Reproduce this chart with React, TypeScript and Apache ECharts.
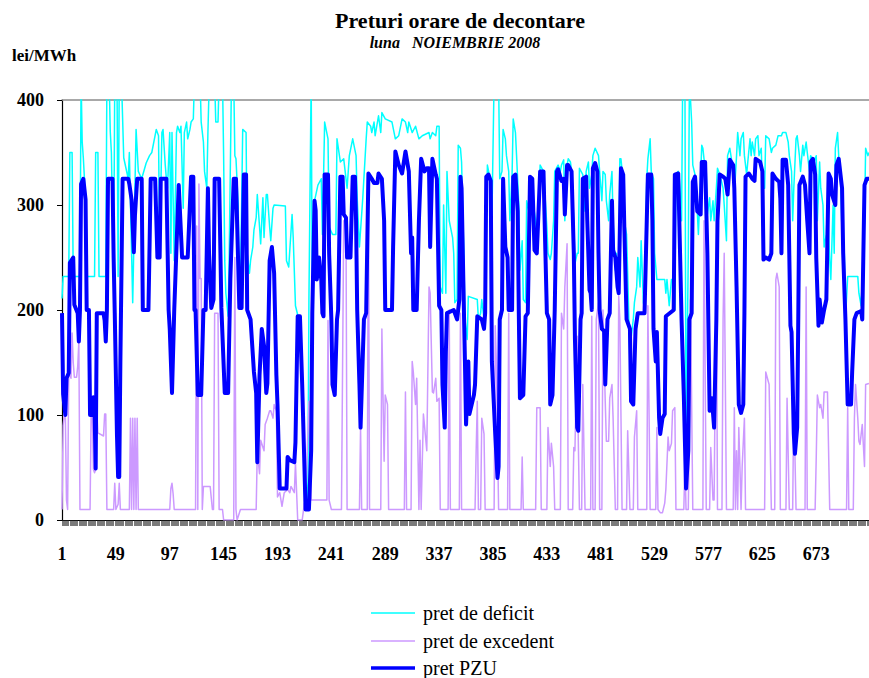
import React, { useEffect, useRef } from "react";
import * as echarts from "echarts";

// Hourly settlement prices, November 2008 (hour index 1..720), read as [hour, lei/MWh] break-points
const pzuPoints: number[][] = [
  [1,197],[2,120],[4,100],[5,135],[7,140],[8,245],[11,250],[12,205],[15,197],[16,170],[17,200],[18,320],[20,325],[21,315],[22,305],[23,200],[25,200],[26,100],[28,100],[29,117],[30,105],[31,49],[32,197],[38,197],[39,190],[40,170],[41,200],[42,325],[46,325],[47,250],[48,197],[50,80],[51,41],[52,41],[53,150],[55,325],[60,325],
  [61,320],[63,305],[65,255],[66,290],[68,325],[72,325],[73,200],[78,200],[79,260],[80,325],[84,325],[86,250],[88,250],[89,325],[94,325],[96,200],[97,182],[99,121],[101,200],[105,319],[108,250],[113,250],[116,327],[118,327],[119,200],[120,200],[122,119],[125,119],[127,200],[129,200],[131,316],
  [132,254],[134,202],[136,210],[137,325],[141,325],[143,202],[146,121],[149,121],[151,230],[154,325],[156,325],[159,202],[161,202],[163,329],[165,329],[166,200],[169,191],[172,141],[174,121],[175,55],[177,138],[179,182],[181,166],[183,121],[184,130],[186,247],[188,260],[190,235],[192,138],[193,110],[195,30],
  [201,30],[202,60],[204,57],[208,55],[209,74],[211,194],[213,194],[215,129],[217,51],[218,10],[221,10],[223,66],[224,197],[226,304],[227,295],[228,229],[230,250],[232,229],[233,197],[234,194],[235,329],[238,329],[239,254],[241,191],[242,129],[244,119],[246,191],[247,200],[249,327],[251,327],[252,291],[254,288],[255,250],[258,250],[260,327],[262,327],[263,285],[264,200],[266,129],[267,88],[270,191],[272,197],
  [274,330],[277,325],[279,321],[282,321],[283,330],[286,325],[288,285],[289,200],[295,200],[296,260],[298,351],[301,338],[304,330],[307,351],[310,332],[312,254],[313,269],[314,200],[317,200],[319,285],[321,344],[324,332],[326,335],[328,335],[329,260],[331,344],[334,329],[335,325],[337,204],[339,200],[340,129],[342,88],[343,160],[344,197],[350,200],[353,191],[355,210],[356,327],[357,316],[359,204],[360,151],[361,91],[363,151],[364,101],[366,110],[368,119],[369,129],[371,194],[375,191],[377,182],[378,197],
  [379,327],[381,329],[383,323],[384,151],[387,82],[389,40],[390,51],[391,191],[393,200],[394,325],[396,260],[398,250],[399,200],[402,200],[403,327],[405,329],[407,294],[408,197],[409,116],[412,119],[414,194],[416,197],[418,327],[420,325],[422,257],[424,254],[425,279],[427,332],[430,332],[431,285],[433,197],[435,191],[436,110],[438,119],[440,200],[442,332],[443,334],[446,323],[448,325],[449,291],[451,338],[452,338],[455,332],[457,254],[458,173],[460,88],[461,85],
  [463,191],[464,197],[465,325],[468,327],[469,285],[471,219],[472,216],[473,200],[474,335],[476,340],[478,332],[479,254],[480,200],[482,182],[484,180],[485,129],[487,191],[489,197],[491,304],[492,257],[494,250],[496,222],[497,216],[499,335],[501,329],[502,279],[504,191],[507,182],[508,113],[510,110],[512,182],[514,197],[520,197],[522,285],[523,329],[526,329],[527,285],[528,182],[530,151],[531,179],[533,97],[534,82],[536,97],[538,101],[539,194],[546,200],[547,329],[550,330],[551,285],[553,191],[555,119],[557,30],[559,66],[560,191],[562,197],
  [563,322],[565,327],[567,294],[570,291],[571,341],[574,341],[576,254],[578,104],[580,116],[582,88],[584,191],[585,285],[587,329],[590,327],[592,325],[594,310],[596,343],[599,338],[600,316],[602,222],[604,110],[606,102],[608,110],[609,197],[610,327],[613,330],[616,325],[618,323],[619,344],[623,341],[625,332],[626,248],[628,250],[631,248],[633,254],[634,330],[637,325],[640,322],[641,306],[642,254],[643,343],[646,343],[648,319],[650,185],[651,179],[653,82],[654,63],[656,88],[657,194],[658,319],[661,327],[663,319],[665,285],[667,254],
  [668,341],[670,344],[672,329],[673,250],[675,185],[676,210],[678,188],[680,200],[682,210],[684,330],[686,325],[687,310],[690,300],[691,338],[693,344],[696,316],[697,254],[699,191],[701,110],[704,110],[705,141],[707,191],[709,197],[713,199],[714,191],[716,319],[718,325],[720,325]
];

const deficitPoints: number[][] = [
  [1,211],[2,232],[7,232],[8,350],[10,350],[11,232],[17,232],[18,420],[19,360],[20,345],[21,325],[23,232],[30,232],[31,350],[33,350],[34,232],[40,232],[41,420],[43,420],[44,370],[45,350],[47,232],[48,420],[50,420],[51,232],[52,420],[54,420],[56,345],[60,325],
  [61,350],[64,207],[67,372],[69,332],[72,325],[76,340],[79,347],[81,350],[85,372],[87,366],[88,254],[90,369],[91,372],[93,338],[94,325],[95,316],[97,369],[98,254],[99,369],[101,247],[103,369],[104,375],[106,369],[107,375],[109,297],[110,369],[112,379],[113,363],[115,372],[116,379],[118,382],[119,420],[124,420],[125,379],[127,360],[128,332],[130,316],[131,369],
  [132,410],[134,420],[137,420],[138,379],[140,379],[141,420],[144,420],[145,347],[146,247],[147,216],[149,194],[150,254],[152,420],[154,420],[155,347],[156,344],[158,300],[159,210],[160,222],[162,372],[165,369],[166,254],[168,235],[169,247],[171,260],[172,276],[174,288],[175,310],[177,279],[178,263],[180,307],[181,269],[183,310],[184,310],[186,279],[187,266],[189,297],[190,300],[200,299],
  [201,247],[203,241],[206,291],[207,269],[209,204],[212,191],[214,160],[217,66],[220,10],[221,210],[223,420],[224,210],[226,304],[229,319],[232,325],[233,272],[234,325],[235,379],[238,363],[239,279],[242,272],[245,272],[246,363],[249,341],[252,344],[255,316],[257,347],[260,363],[263,347],[264,307],[266,260],[269,307],[272,363],
  [273,379],[276,375],[277,369],[279,379],[280,366],[283,385],[285,369],[286,388],[289,382],[295,379],[298,363],[301,366],[304,382],[307,379],[309,369],[310,379],[313,369],[316,375],[319,363],[322,366],[328,369],[329,363],[331,369],[334,366],[335,375],[337,375],[338,222],[340,216],[341,300],[343,216],[344,332],[346,285],[349,269],[350,254],[351,207],[353,210],
  [354,357],[356,354],[357,341],[359,254],[360,191],[362,172],[363,213],[371,210],[372,191],[374,197],[375,210],[377,191],[378,210],[380,338],[383,322],[384,285],[386,420],[390,420],[391,325],[393,332],[394,372],[396,363],[397,347],[399,332],[400,285],[402,329],[403,382],[405,369],[406,347],[408,300],[409,238],[411,266],[412,210],[414,207],[415,304],[417,294],[418,325],[420,316],[421,300],[423,285],[424,260],[425,276],[427,338],[430,332],[431,316],[433,279],[434,254],[436,248],[437,254],[439,285],[440,332],[443,338],[445,332],[446,338],[448,343],[449,285],[451,338],[452,344],[454,341],[455,332],[457,285],[458,244],[460,254],
  [461,254],[462,335],[465,329],[467,294],[468,332],[470,341],[471,316],[473,329],[474,347],[476,354],[479,347],[480,332],[482,304],[483,332],[485,329],[486,304],[488,285],[489,310],[491,332],[492,285],[494,238],[495,254],[497,229],[498,344],[499,344],[501,322],[502,285],[504,272],[505,235],[507,151],[508,173],[510,191],[511,207],[513,222],[514,250],[516,222],[517,266],[519,207],[520,200],[522,325],[523,344],[525,363],[526,332],[528,325],[529,254],[531,229],[538,229],[539,216],[540,229],[542,204],[544,229],[545,229],[547,200],
  [548,329],[550,332],[551,325],[553,285],[554,420],[556,420],[557,66],[559,254],[560,420],[562,379],[563,338],[565,329],[566,316],[568,272],[569,300],[571,357],[572,354],[573,344],[575,332],[576,291],[578,307],[579,285],[581,304],[582,285],[584,316],[585,335],[587,329],[588,325],[590,316],[591,300],[593,266],[594,347],[596,354],[597,347],[599,332],[600,310],
  [602,347],[603,369],[605,347],[606,363],[608,369],[609,347],[611,329],[612,341],[614,363],[615,347],[616,360],[618,347],[619,363],[621,366],[622,347],[624,354],[625,316],[627,316],[628,366],[631,363],[633,350],[634,354],[637,357],[639,366],[642,366],[643,369],[646,369],[648,360],[649,347],[651,332],[652,285],[653,316],[655,363],[656,366],[658,347],[659,332],[661,357],[662,347],[664,360],[665,350],[667,332],[668,347],[671,341],[673,347],[674,285],[676,341],[677,316],[679,300],[680,260],[682,272],[683,300],[685,248],[686,229],[688,300],[689,254],
  [690,354],[692,369],[693,347],[695,316],[696,269],[698,254],[699,191],[701,232],[710,232],[711,216],[713,204],[714,229],[716,285],[717,354],[719,347],[720,350]
];

const excedentPoints: number[][] = [
  [1,10],[2,90],[3,100],[4,97],[5,19],[6,10],[7,140],[9,135],[10,178],[11,150],[12,136],[14,136],[15,146],[16,170],[17,10],[26,10],[27,105],[28,105],[29,48],[30,45],[31,48],[32,105],[33,83],[38,80],[39,101],[40,101],[41,10],[47,10],[48,35],[49,10],[51,15],[52,35],[53,10],
  [61,10],[62,97],[63,10],[64,97],[65,10],[66,97],[67,10],[68,97],[69,10],[97,10],[98,30],[99,35],[100,25],[101,10],[120,10],[121,280],[122,10],[123,320],[124,230],[125,230],[126,10],[127,32],[133,32],[135,10],[136,10],[137,197],[140,197],[141,10],[144,10],[145,0],[154,0],[155,250],[156,10],[157,0],[160,10],
  [174,10],[175,66],[177,44],[178,76],[181,66],[182,91],[184,97],[186,104],[187,104],[189,97],[190,110],[192,104],[193,22],[195,26],[197,13],[199,26],[202,29],[204,26],[205,32],[208,26],[209,54],[211,0],[215,0],[217,16],[218,16],[221,113],[223,19],[237,19],[238,190],[239,19],[241,10],[250,10],[252,285],[254,285],[255,10],[266,10],[267,88],[268,10],[273,10],[274,319],[275,10],
  [285,10],[286,182],[288,56],[289,119],[291,110],[292,10],[306,10],[307,122],[308,10],[312,10],[313,151],[314,141],[316,110],[317,135],[319,10],[320,76],[321,10],[323,101],[325,78],[326,66],[328,222],[329,216],[331,122],[332,121],[334,135],[335,113],[337,116],[338,10],[345,10],[346,200],[347,10],[355,10],[356,197],[357,10],[369,10],[370,66],[371,113],[372,10],[374,10],[375,97],[377,82],[378,10],
  [386,10],[387,185],[388,151],[390,10],[398,10],[399,197],[400,10],[410,10],[411,60],[412,10],[423,10],[424,107],[427,107],[428,10],[433,10],[434,88],[436,51],[437,73],[439,51],[440,10],[445,10],[446,197],[448,182],[449,222],[451,263],[452,10],[456,10],[457,69],[458,66],[460,175],[461,76],[462,10],[464,10],[465,129],[467,10],[472,10],[473,194],[474,10],[476,10],[477,191],[479,207],[480,10],
  [482,10],[483,200],[485,113],[486,75],[488,75],[489,116],[491,129],[492,97],[494,10],[496,10],[497,213],[498,191],[500,10],[504,10],[505,85],[507,10],[510,10],[511,79],[513,104],[514,10],[522,10],[523,204],[525,10],[530,10],[531,88],[532,10],[534,7],[536,7],[538,16],[539,29],[541,79],[542,66],[544,73],[545,104],[547,107],[548,10],[555,10],[556,54],[557,10],[559,10],[560,91],[561,210],[563,10],
  [572,10],[573,285],[575,10],[578,10],[579,69],[581,19],[582,19],[584,248],[585,10],[589,10],[590,191],[591,254],[593,10],[599,10],[600,107],[601,10],[602,66],[603,10],[604,88],[605,51],[606,10],[607,51],[609,97],[610,10],[627,10],[628,141],[631,129],[633,10],[636,10],[637,229],[638,235],[640,222],[641,10],[646,10],[647,116],[649,10],[652,10],[653,116],[655,10],[663,10],[664,222],[665,10],
  [672,10],[673,60],[674,119],[676,107],[677,110],[679,97],[680,122],[683,122],[685,10],[700,10],[701,107],[702,10],[706,10],[707,97],[708,129],[710,97],[711,75],[712,72],[714,91],[716,51],[717,129],[720,130]
];

const hourCount = 720;
const hourLabels: string[] = Array.from({ length: hourCount }, (_, i) => String(i + 1));
const seriesNames = ["pret de deficit", "pret de excedent", "pret PZU"];
const seriesColors = ["#00FFFF", "#CC99FF", "#0000FF"];
const seriesWidths = [1.5, 1.5, 4];
const titleText = "Preturi orare de decontare";
const subtitleText = "luna   NOIEMBRIE 2008";
const unitText = "lei/MWh";

const SERIF = "Liberation Serif";

const toData = (pts: number[][]) => pts.map(([h, v]) => [h - 1, v]);

export default function App() {
  const ref = useRef<HTMLDivElement>(null);

  useEffect(() => {
    if (!ref.current) return;
    const chart = echarts.init(ref.current, null, { renderer: "svg" });

    const legendRowY = [613, 641, 668];
    const legendGraphics: any[] = [];
    seriesNames.forEach((name, i) => {
      legendGraphics.push({
        type: "line",
        shape: { x1: 371, y1: legendRowY[i], x2: 415, y2: legendRowY[i] },
        style: { stroke: seriesColors[i], lineWidth: seriesWidths[i] === 4 ? 3.5 : 1.5 },
        silent: true,
      });
      legendGraphics.push({
        type: "text",
        x: 423,
        y: legendRowY[i],
        style: {
          text: name,
          fill: "#000",
          fontFamily: SERIF,
          fontSize: 20,
          fontWeight: "normal",
          align: "left",
          verticalAlign: "middle",
        },
        silent: true,
      });
    });

    const option: any = {
      animation: false,
      backgroundColor: "#ffffff",
      grid: { left: 62, right: 0, top: 100, bottom: 158, containLabel: false },
      graphic: [
        {
          type: "text",
          x: 460,
          y: 20,
          style: {
            text: titleText,
            fill: "#000",
            fontFamily: SERIF,
            fontSize: 22,
            fontWeight: "bold",
            align: "center",
            verticalAlign: "middle",
          },
        },
        {
          type: "text",
          x: 455,
          y: 42,
          style: {
            text: subtitleText,
            fill: "#000",
            fontFamily: SERIF,
            fontSize: 16,
            fontWeight: "bold",
            fontStyle: "italic",
            align: "center",
            verticalAlign: "middle",
          },
        },
        {
          type: "text",
          x: 12,
          y: 55,
          style: {
            text: unitText,
            fill: "#000",
            fontFamily: SERIF,
            fontSize: 17,
            fontWeight: "bold",
            align: "left",
            verticalAlign: "middle",
          },
        },
        ...legendGraphics,
      ],
      xAxis: [
        {
          type: "category",
          data: hourLabels,
          boundaryGap: false,
          axisLine: { lineStyle: { color: "#000", width: 1.2 } },
          axisTick: { interval: 0, length: 6, lineStyle: { color: "#222", width: 0.6 } },
          axisLabel: {
            interval: 47,
            margin: 25,
            color: "#000",
            fontFamily: SERIF,
            fontWeight: "bold",
            fontSize: 18,
          },
          splitLine: { show: false },
        },
        {
          type: "category",
          position: "top",
          data: hourLabels,
          boundaryGap: false,
          axisLine: { lineStyle: { color: "#8c8c8c", width: 1.5 } },
          axisTick: { show: false },
          axisLabel: { show: false },
          splitLine: { show: false },
        },
      ],
      yAxis: {
        type: "value",
        min: 0,
        max: 400,
        interval: 100,
        axisLine: { show: true, lineStyle: { color: "#000", width: 1.2 } },
        axisTick: { show: true, length: 5, lineStyle: { color: "#000" } },
        axisLabel: {
          margin: 18,
          color: "#000",
          fontFamily: SERIF,
          fontWeight: "bold",
          fontSize: 18,
        },
        splitLine: { show: false },
      },
      series: seriesNames.map((name, i) => ({
        name,
        type: "line",
        data: toData([deficitPoints, excedentPoints, pzuPoints][i]),
        symbol: "none",
        clip: true,
        color: seriesColors[i],
        lineStyle: { color: seriesColors[i], width: seriesWidths[i], join: "round" },
        z: 2 + i,
      })),
    };
    chart.setOption(option);
    return () => chart.dispose();
  }, []);

  return (
    <div
      ref={ref}
      style={{ position: "fixed", left: 0, top: 0, width: 869, height: 678, background: "#fff" }}
    />
  );
}
